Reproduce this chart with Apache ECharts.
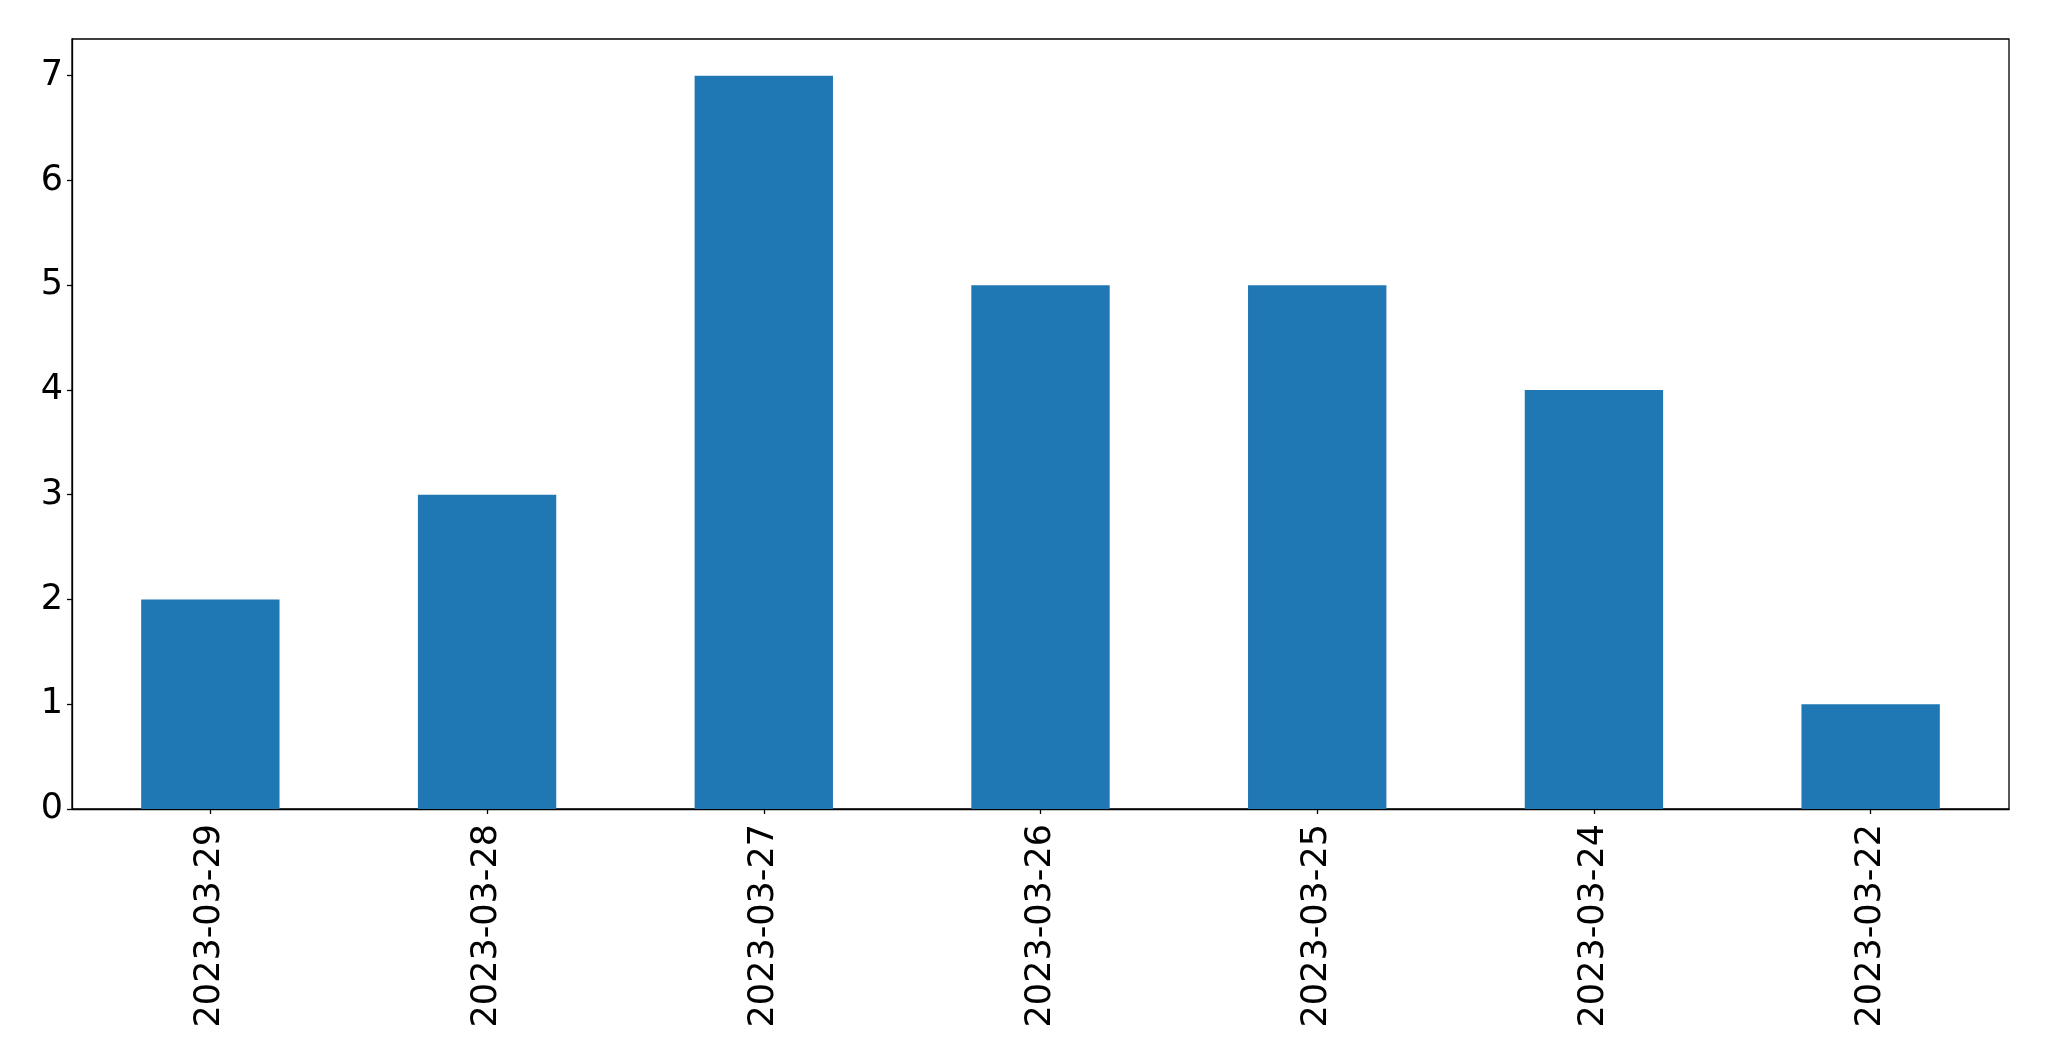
<!DOCTYPE html>
<html>
<head>
<meta charset="utf-8">
<script src="https://cdn.jsdelivr.net/npm/echarts@6/dist/echarts.min.js"></script>
<style>
html,body{margin:0;padding:0;background:#fff;}
#chart{width:2049px;height:1061px;}
</style>
</head>
<body>
<div id="chart"></div>
<script>
const categories = ['2023-03-29','2023-03-28','2023-03-27','2023-03-26','2023-03-25','2023-03-24','2023-03-22'];
const values = [2, 3, 7, 5, 5, 4, 1];
const yTicks = [0, 1, 2, 3, 4, 5, 6, 7];

const chart = echarts.init(document.getElementById('chart'));
const font = 'DejaVu Sans';
chart.setOption({
  animation: false,
  backgroundColor: '#ffffff',
  grid: {
    left: 72, right: 40, top: 39, bottom: 252,
    show: true, borderColor: '#000', borderWidth: 1.3, backgroundColor: 'transparent'
  },
  xAxis: {
    type: 'category',
    data: categories,
    boundaryGap: true,
    axisLine: { show: true, lineStyle: { color: '#000', width: 1.3 } },
    axisTick: { show: true, alignWithLabel: true, length: 5, lineStyle: { color: '#000', width: 1.3 } },
    axisLabel: { rotate: 90, margin: 15, color: '#000', fontFamily: font, fontSize: 35 },
    splitLine: { show: false }
  },
  yAxis: {
    type: 'value',
    min: 0, max: 7.35, interval: 1,
    axisLine: { show: true, lineStyle: { color: '#000', width: 1.3 } },
    axisTick: { show: true, length: 5, lineStyle: { color: '#000', width: 1.3 } },
    axisLabel: {
      margin: 9, color: '#000', fontFamily: font, fontSize: 35,
      showMaxLabel: false,
      formatter: function (v) { return yTicks.indexOf(v) >= 0 ? String(v) : ''; }
    },
    splitLine: { show: false }
  },
  series: [{
    type: 'bar',
    data: values,
    barWidth: '50%',
    itemStyle: { color: '#1f77b4' }
  }]
});
</script>
</body>
</html>
